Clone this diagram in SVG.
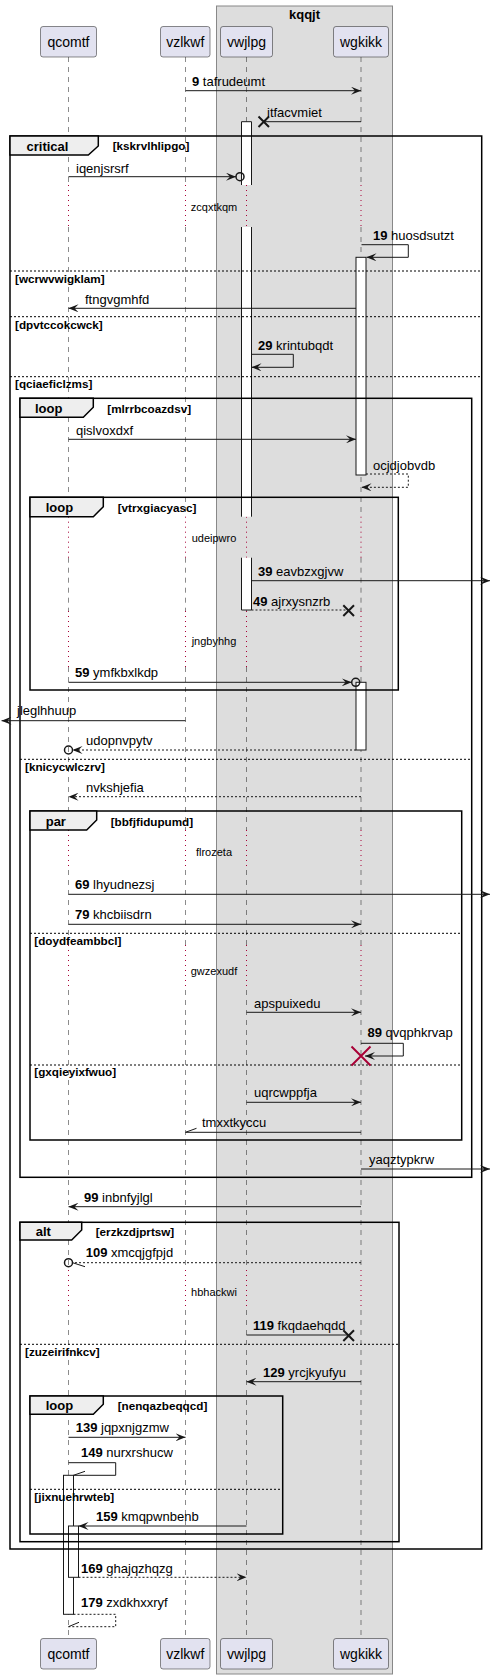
<svg xmlns="http://www.w3.org/2000/svg" width="491" height="1679" viewBox="0 0 491 1679">
<style>
text{font-family:"Liberation Sans",Arial,sans-serif;fill:#000}
.pt{font-size:14px;text-anchor:middle}
.msg{font-size:13px}
.b{font-weight:bold}
.fl{font-size:13px;font-weight:bold}
.cond{font-size:11.7px;font-weight:bold}
.dl{font-size:11px;text-anchor:middle}
.pbox{fill:#E2E2F0;stroke:#181818;stroke-width:0.5}
.life{fill:none;stroke:#181818;stroke-width:0.5;stroke-dasharray:5,5}
.delay{fill:none;stroke:#A80036;stroke-width:1;stroke-dasharray:1,4}
.frame{fill:none;stroke:#000;stroke-width:1.5}
.tab{fill:#EEEEEE;stroke:#000;stroke-width:1.5}
.div{fill:none;stroke:#000;stroke-width:1;stroke-dasharray:2,2}
.act{fill:#FFFFFF;stroke:#181818;stroke-width:1}
.actf{fill:#FFFFFF;stroke:none}
.actl{fill:none;stroke:#181818;stroke-width:1}
.m{fill:none;stroke:#181818;stroke-width:1}
.d{stroke-dasharray:2,2}
.ar{marker-end:url(#ah)}
.x{fill:none;stroke:#181818;stroke-width:2}
.rx{fill:none;stroke:#A80036;stroke-width:2}
.circ{fill:none;stroke:#181818;stroke-width:1.5}
</style>
<defs>
<marker id="ah" viewBox="0 0 10 8" refX="10" refY="4" markerWidth="10" markerHeight="8" markerUnits="userSpaceOnUse" orient="auto"><path d="M0,0 L10,4 L0,8 L4,4 Z" fill="#181818"/></marker>
</defs>
<rect width="491" height="1679" fill="#FFFFFF"/>
<g id="box-kqqjt">
<rect x="216.5" y="6" width="176" height="1668" fill="#DDDDDD" stroke="#888888" stroke-width="1"/>
<text x="304.5" y="19" class="fl" text-anchor="middle">kqqjt</text>
</g>
<g id="lifelines">
<path class="life" d="M68.5,57V185M68.5,227V516.7M68.5,557.7V611M68.5,667V830M68.5,870V945M68.5,990V1270M68.5,1310V1638.5 M185.5,57V185M185.5,227V516.7M185.5,557.7V611M185.5,667V830M185.5,870V945M185.5,990V1270M185.5,1310V1638.5 M246.5,57V185M246.5,227V516.7M246.5,557.7V611M246.5,667V830M246.5,870V945M246.5,990V1270M246.5,1310V1638.5 M361,57V185M361,227V516.7M361,557.7V611M361,667V830M361,870V945M361,990V1270M361,1310V1638.5"/>
<path class="delay" d="M68.5,185V227M185.5,185V227M246.5,185V227M361,185V227 M68.5,516.7V557.7M185.5,516.7V557.7M246.5,516.7V557.7M361,516.7V557.7 M68.5,611V667M185.5,611V667M246.5,611V667M361,611V667 M68.5,830V870M185.5,830V870M246.5,830V870M361,830V870 M68.5,945V990M185.5,945V990M246.5,945V990M361,945V990 M68.5,1270V1310M185.5,1270V1310M246.5,1270V1310M361,1270V1310"/>
</g>
<g id="delays">
<text x="214" y="211" class="dl">zcqxtkqm</text>
<text x="214" y="542" class="dl">udeipwro</text>
<text x="214" y="644.5" class="dl">jngbyhhg</text>
<text x="214" y="856" class="dl">flrozeta</text>
<text x="214" y="975" class="dl">gwzexudf</text>
<text x="214" y="1296" class="dl">hbhackwi</text>
</g>
<g id="activations">
<rect class="actf" x="241.5" y="121.7" width="10" height="63.3"/>
<path class="actl" d="M241.5,185V121.7H251.5V185"/>
<rect class="actf" x="241.5" y="227" width="10" height="289.7"/>
<path class="actl" d="M241.5,227V516.7M251.5,227V516.7"/>
<rect class="actf" x="241.5" y="557.7" width="10" height="52.3"/>
<path class="actl" d="M241.5,557.7V610H251.5V557.7"/>
<rect class="act" x="356" y="257.3" width="10" height="217.7"/>
<rect class="act" x="356" y="682.3" width="10" height="67.7"/>
<rect class="act" x="63.5" y="1475.3" width="10" height="139"/>
<rect class="act" x="68.5" y="1526" width="10" height="51.3"/>
</g>
<g id="frame-critical">
<rect class="frame" x="10" y="136" width="471.7" height="1413"/>
<polygon class="tab" points="10,136 98.3,136 98.3,146 88.3,155 10,155"/>
<text x="26.5" y="150.5" class="fl">critical</text>
<text x="112.7" y="150" class="cond">[kskrvlhlipgo]</text>
<path class="div" d="M10,271H481.7M10,316.7H481.7M10,376.7H481.7"/>
<text x="15" y="283" class="cond">[wcrwvwigklam]</text>
<text x="15" y="328.5" class="cond">[dpvtccokcwck]</text>
<text x="15" y="388" class="cond">[qciaeficlzms]</text>
</g>
<g id="frame-loop-mlrrbcoazdsv">
<rect class="frame" x="20" y="398.3" width="451.7" height="779"/>
<polygon class="tab" points="20,398.3 93.3,398.3 93.3,407.3 83.3,417.3 20,417.3"/>
<text x="35" y="413" class="fl">loop</text>
<text x="107.3" y="413" class="cond">[mlrrbcoazdsv]</text>
<path class="div" d="M20,759.3H471.7"/>
<text x="25" y="770.5" class="cond">[knicycwlczrv]</text>
</g>
<g id="frame-loop-vtrxgiacyasc">
<rect class="frame" x="30" y="497.3" width="368.3" height="192.7"/>
<polygon class="tab" points="30,497.3 103.3,497.3 103.3,506.7 93.3,516.7 30,516.7"/>
<text x="45.7" y="512" class="fl">loop</text>
<text x="117.7" y="512" class="cond">[vtrxgiacyasc]</text>
</g>
<g id="frame-par">
<rect class="frame" x="30" y="811" width="431.7" height="329"/>
<polygon class="tab" points="30,811 96.7,811 96.7,820 86.7,830 30,830"/>
<text x="45.7" y="825.5" class="fl">par</text>
<text x="110.7" y="825.5" class="cond">[bbfjfidupumd]</text>
<path class="div" d="M30,933.3H461.7M30,1065H461.7"/>
<text x="34.3" y="944.5" class="cond">[doydfeambbcl]</text>
<text x="34.3" y="1076" class="cond">[gxqieyixfwuo]</text>
</g>
<g id="frame-alt">
<rect class="frame" x="20" y="1222.3" width="379" height="319.4"/>
<polygon class="tab" points="20,1222.3 81.7,1222.3 81.7,1230 71.7,1240 20,1240"/>
<text x="35.7" y="1236" class="fl">alt</text>
<text x="95.7" y="1236" class="cond">[erzkzdjprtsw]</text>
<path class="div" d="M20,1344.3H399"/>
<text x="25" y="1356" class="cond">[zuzeirifnkcv]</text>
</g>
<g id="frame-loop-nenqazbeqqcd">
<rect class="frame" x="30" y="1396" width="252.7" height="138"/>
<polygon class="tab" points="30,1396 103.3,1396 103.3,1404.3 93.3,1414.3 30,1414.3"/>
<text x="45.7" y="1410" class="fl">loop</text>
<text x="117.7" y="1410" class="cond">[nenqazbeqqcd]</text>
<path class="div" d="M30,1489.3H282.7"/>
<text x="34.3" y="1500.5" class="cond">[jixnuehrwteb]</text>
</g>
<g id="connectors">
<path class="m ar" d="M185.5,90.7H361"/>
<text x="192" y="86" class="msg"><tspan class="b">9</tspan> tafrudeumt</text>
<path class="m" d="M361,121.7H264"/>
<path class="x" d="M258.5,116.5L269,127M269,116.5L258.5,127"/>
<text x="267" y="117" class="msg">itfacvmiet</text>
<path class="m ar" d="M68.5,176.7H236"/>
<circle class="circ" cx="240" cy="176.7" r="4"/>
<text x="76" y="172.5" class="msg">iqenjsrsrf</text>
<path class="m ar" d="M361.5,244.7H408.3V257.3H366.5"/>
<text x="373" y="240" class="msg"><tspan class="b">19</tspan> huosdsutzt</text>
<path class="m ar" d="M356,308.3H68.5"/>
<text x="85" y="304" class="msg">ftngvgmhfd</text>
<path class="m ar" d="M251.5,354.3H293.3V367.3H251.5"/>
<text x="258" y="349.5" class="msg"><tspan class="b">29</tspan> krintubqdt</text>
<path class="m ar" d="M68.5,439.3H356"/>
<text x="76" y="435" class="msg">qislvoxdxf</text>
<path class="m d ar" d="M366,474H408.3V487.3H361.5"/>
<text x="373" y="469.5" class="msg">ocjdjobvdb</text>
<path class="m ar" d="M251.5,580.7H490"/>
<text x="258" y="576" class="msg"><tspan class="b">39</tspan> eavbzxgjvw</text>
<path class="m d" d="M251.5,610H348.5"/>
<path class="x" d="M343.3,605.3L354,616M354,605.3L343.3,616"/>
<text x="253" y="605.5" class="msg"><tspan class="b">49</tspan> ajrxysnzrb</text>
<path class="m ar" d="M68.5,682.3H351.7"/>
<circle class="circ" cx="355.7" cy="682.3" r="4"/>
<text x="75" y="677" class="msg"><tspan class="b">59</tspan> ymfkbxlkdp</text>
<path class="m ar" d="M185.5,720.7H1.5"/>
<text x="17" y="715" class="msg">jleglhhuup</text>
<path class="m d ar" d="M356,750H72.5"/>
<circle class="circ" cx="68.5" cy="750" r="4"/>
<text x="86" y="745" class="msg">udopnvpytv</text>
<path class="m d ar" d="M361,796.7H68.5"/>
<text x="86" y="791.5" class="msg">nvkshjefia</text>
<path class="m ar" d="M68.5,894.3H490"/>
<text x="75" y="889" class="msg"><tspan class="b">69</tspan> lhyudnezsj</text>
<path class="m ar" d="M68.5,924.3H361"/>
<text x="75" y="919" class="msg"><tspan class="b">79</tspan> khcbiisdrn</text>
<path class="m ar" d="M246.5,1012.3H361"/>
<text x="254" y="1007.5" class="msg">apspuixedu</text>
<path class="m ar" d="M361,1043.3H403.3V1056H365"/>
<path class="rx" d="M351.5,1046.5L370.5,1065.5M370.5,1046.5L351.5,1065.5"/>
<text x="367.5" y="1037" class="msg"><tspan class="b">89</tspan> qvqphkrvap</text>
<path class="m ar" d="M246.5,1102.3H361"/>
<text x="254" y="1096.5" class="msg">uqrcwppfja</text>
<path class="m" d="M361,1132.3H185.5L196.5,1128.3"/>
<text x="202" y="1127" class="msg">tmxxtkyccu</text>
<path class="m ar" d="M361,1169H490"/>
<text x="369" y="1164" class="msg">yaqztypkrw</text>
<path class="m ar" d="M361,1206.7H68.5"/>
<text x="84" y="1201.5" class="msg"><tspan class="b">99</tspan> inbnfyjlgl</text>
<path class="m d" d="M361,1262.7H72.5"/>
<path class="m" d="M72.5,1262.7L85,1266.7"/>
<circle class="circ" cx="68.5" cy="1262.7" r="4"/>
<text x="85.7" y="1257" class="msg"><tspan class="b">109</tspan> xmcqjgfpjd</text>
<path class="m" d="M246.5,1335H348.5"/>
<path class="x" d="M343.3,1330.3L354,1341M354,1330.3L343.3,1341"/>
<text x="253" y="1330" class="msg"><tspan class="b">119</tspan> fkqdaehqdd</text>
<path class="m ar" d="M361,1381.7H246.5"/>
<text x="263" y="1376.5" class="msg"><tspan class="b">129</tspan> yrcjkyufyu</text>
<path class="m ar" d="M68.5,1437.3H185.5"/>
<text x="75.7" y="1432" class="msg"><tspan class="b">139</tspan> jqpxnjgzmw</text>
<path class="m" d="M68.5,1462.7H115.7V1475.3H73.5L85,1471.3"/>
<text x="81" y="1457" class="msg"><tspan class="b">149</tspan> nurxrshucw</text>
<path class="m ar" d="M246.5,1526H78.5"/>
<text x="96" y="1520.5" class="msg"><tspan class="b">159</tspan> kmqpwnbenb</text>
<path class="m d ar" d="M78.5,1577.3H246.5"/>
<text x="81" y="1572.5" class="msg"><tspan class="b">169</tspan> ghajqzhqzg</text>
<path class="m d" d="M73.5,1614.3H115.7V1626.7H68.5"/>
<path class="m" d="M68.5,1626.7L79,1622.3"/>
<text x="81" y="1607" class="msg"><tspan class="b">179</tspan> zxdkhxxryf</text>
</g>
<g id="p-qcomtf">
<rect class="pbox" x="40.5" y="26.5" width="56" height="30.5" rx="2.5"/>
<text x="68.5" y="46.5" class="pt">qcomtf</text>
<rect class="pbox" x="40.5" y="1638.5" width="56" height="30.5" rx="2.5"/>
<text x="68.5" y="1658.5" class="pt">qcomtf</text>
</g>
<g id="p-vzlkwf">
<rect class="pbox" x="160.5" y="26.5" width="49.5" height="30.5" rx="2.5"/>
<text x="185.3" y="46.5" class="pt">vzlkwf</text>
<rect class="pbox" x="160.5" y="1638.5" width="49.5" height="30.5" rx="2.5"/>
<text x="185.3" y="1658.5" class="pt">vzlkwf</text>
</g>
<g id="p-vwjlpg">
<rect class="pbox" x="220.5" y="26.5" width="52" height="30.5" rx="2.5"/>
<text x="246.5" y="46.5" class="pt">vwjlpg</text>
<rect class="pbox" x="220.5" y="1638.5" width="52" height="30.5" rx="2.5"/>
<text x="246.5" y="1658.5" class="pt">vwjlpg</text>
</g>
<g id="p-wgkikk">
<rect class="pbox" x="333.5" y="26.5" width="55" height="30.5" rx="2.5"/>
<text x="361" y="46.5" class="pt">wgkikk</text>
<rect class="pbox" x="333.5" y="1638.5" width="55" height="30.5" rx="2.5"/>
<text x="361" y="1658.5" class="pt">wgkikk</text>
</g>
</svg>
